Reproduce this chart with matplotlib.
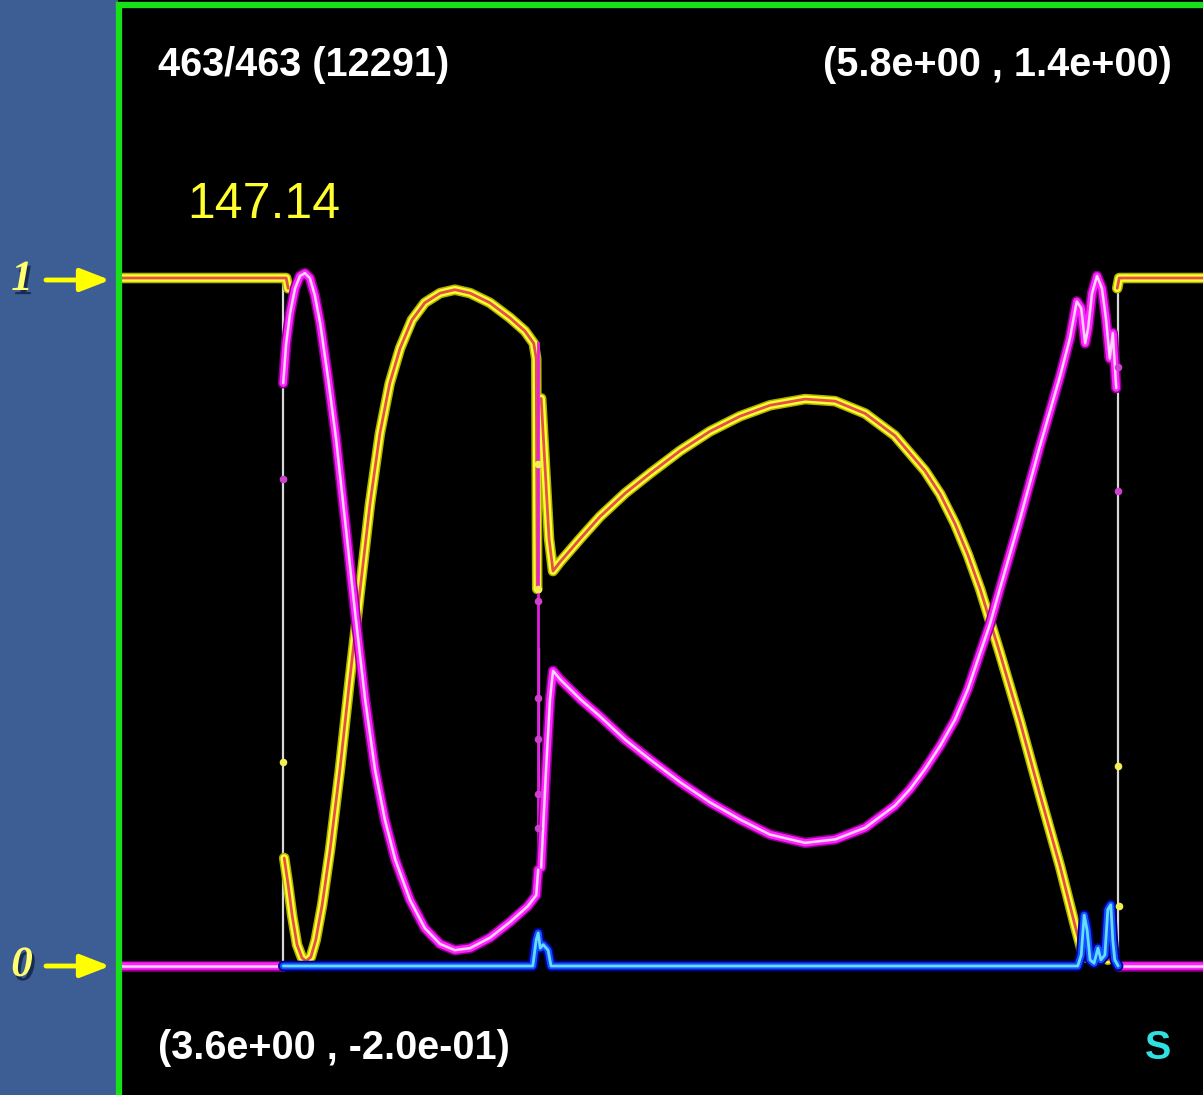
import numpy as np
import matplotlib.pyplot as plt
from matplotlib.lines import Line2D
import matplotlib.patheffects as pe

W, H = 1203, 1095

# ---- data (x: 3.6..5.8, y: volume fraction) ----
# yellow series, split where it jumps
yel_x1 = [3.600, 3.941, 3.945]
yel_y1 = [1.000, 1.000, 0.985]
yel_x2 = [3.937, 3.945, 3.953, 3.963, 3.973, 3.981, 3.991, 4.001, 4.014, 4.030,
          4.050, 4.070, 4.091, 4.111, 4.131, 4.151, 4.172, 4.196, 4.222, 4.253,
          4.283, 4.314, 4.354, 4.395, 4.425, 4.443, 4.448, 4.450]
yel_y2 = [0.157, 0.118, 0.074, 0.031, 0.012, 0.007, 0.013, 0.038, 0.089, 0.169,
          0.286, 0.417, 0.548, 0.672, 0.774, 0.847, 0.898, 0.939, 0.964, 0.978,
          0.983, 0.978, 0.964, 0.942, 0.923, 0.905, 0.883, 0.548]
yel_x3 = [4.458, 4.466, 4.474, 4.482, 4.496, 4.537, 4.577, 4.628, 4.679, 4.740,
          4.800, 4.861, 4.922, 4.993, 5.054, 5.115, 5.175, 5.236, 5.267, 5.297,
          5.323, 5.348, 5.388, 5.429, 5.469, 5.510, 5.540, 5.555, 5.563, 5.575,
          5.583, 5.595, 5.607, 5.619]
yel_y3 = [0.825, 0.723, 0.621, 0.574, 0.587, 0.621, 0.653, 0.687, 0.716, 0.749,
          0.777, 0.799, 0.815, 0.824, 0.821, 0.803, 0.771, 0.720, 0.686, 0.643,
          0.598, 0.548, 0.455, 0.355, 0.250, 0.145, 0.060, 0.020, 0.012, 0.023,
          0.012, 0.023, 0.009, 0.016]
yel_x4 = [5.626, 5.630, 5.800]
yel_y4 = [0.985, 1.000, 1.000]

# magenta series
mag_x1 = [3.600, 3.935]
mag_y1 = [0.0, 0.0]
mag_x2 = [3.935, 3.941, 3.949, 3.959, 3.969, 3.979, 3.989, 3.999, 4.010, 4.026,
          4.042, 4.060, 4.081, 4.101, 4.121, 4.141, 4.162, 4.192, 4.222, 4.253,
          4.283, 4.314, 4.354, 4.395, 4.431, 4.448, 4.452]
mag_y2 = [0.847, 0.905, 0.949, 0.985, 1.003, 1.007, 1.000, 0.975, 0.934, 0.854,
          0.767, 0.650, 0.512, 0.388, 0.286, 0.213, 0.155, 0.096, 0.055, 0.032,
          0.023, 0.026, 0.041, 0.064, 0.087, 0.103, 0.140]
mag_x3 = [4.458, 4.468, 4.476, 4.482, 4.496, 4.537, 4.577, 4.628, 4.679, 4.740,
          4.800, 4.861, 4.922, 4.993, 5.054, 5.115, 5.175, 5.206, 5.236, 5.267,
          5.297, 5.323, 5.348, 5.368, 5.388, 5.429, 5.469, 5.510, 5.530, 5.544,
          5.553, 5.561, 5.567, 5.575, 5.585, 5.595, 5.603, 5.611, 5.617, 5.624]
mag_y3 = [0.143, 0.286, 0.388, 0.429, 0.417, 0.388, 0.363, 0.329, 0.300, 0.267,
          0.238, 0.213, 0.191, 0.179, 0.184, 0.201, 0.233, 0.257, 0.286, 0.320,
          0.358, 0.402, 0.455, 0.497, 0.548, 0.650, 0.755, 0.857, 0.912, 0.966,
          0.956, 0.905, 0.927, 0.978, 1.003, 0.985, 0.942, 0.883, 0.920, 0.840]
mag_x4 = [5.628, 5.800]
mag_y4 = [0.0, 0.0]
mag_mid_x = [4.452, 4.452]
mag_mid_y = [0.905, 0.140]

# blue series
blu_x = [3.935, 4.441, 4.448, 4.452, 4.456, 4.462, 4.472, 4.478, 5.546, 5.553,
         5.559, 5.565, 5.571, 5.579, 5.587, 5.593, 5.601, 5.607, 5.613, 5.617,
         5.621, 5.628]
blu_y = [0.0, 0.0, 0.038, 0.048, 0.026, 0.031, 0.023, 0.0, 0.0, 0.016,
         0.074, 0.052, 0.009, 0.004, 0.026, 0.009, 0.016, 0.082, 0.089, 0.038,
         0.009, 0.0]

# white boundary lines
wall_x = [3.935, 5.628, 4.454]
wall_lo = [0.0, 0.0, 0.140]
wall_hi = [1.0, 1.0, 0.461]

# point markers
dot_mag_x = [3.935, 5.628, 4.452, 4.452, 4.452, 4.452, 4.452, 5.628]
dot_mag_y = [0.708, 0.691, 0.530, 0.390, 0.330, 0.250, 0.200, 0.870]
dot_yel_x = [3.935, 5.628, 5.630, 4.452, 4.452]
dot_yel_y = [0.296, 0.290, 0.087, 0.548, 0.730]

xmin, xmax = 3.6, 5.8
ymin, ymax = -0.2, 1.4

YEL = [('#b0b000', 7.6), ('#ffff30', 5.4), ('#e2504c', 2.0)]
MAG = [('#900090', 7.6), ('#ff22ff', 5.4), ('#ffd4ff', 1.8)]
BLU = [('#000090', 7.6), ('#1050ff', 5.0), ('#66dcff', 2.0)]

fig = plt.figure(figsize=(W / 100, H / 100), dpi=100)
fig.patch.set_facecolor('#3c5e95')
ax = fig.add_axes([118 / W, 0, 1 - 118 / W, 1])
ax.set_facecolor('black')
ax.set_xlim(3.6, 3.6 + 1085 / 493.2)
ax.set_ylim(-129 / 688, 966 / 688)
ax.set_xticks([])
ax.set_yticks([])
for s in ax.spines.values():
    s.set_visible(False)


def glow(x, y, layers, z):
    for i, (c, w) in enumerate(layers):
        ax.plot(x, y, color=c, lw=w, solid_joinstyle='round',
                solid_capstyle='round', zorder=z + i * 0.1)


for wx, lo, hi in zip(wall_x, wall_lo, wall_hi):
    ax.plot([wx, wx], [lo, hi], color='#d8d8d8', lw=1.6, zorder=1)

for xs, ys in [(yel_x1, yel_y1), (yel_x2, yel_y2), (yel_x3, yel_y3), (yel_x4, yel_y4)]:
    glow(xs, ys, YEL, 2)
ax.plot(mag_mid_x, mag_mid_y, color='#e020e0', lw=2.0, zorder=2.5)
for xs, ys in [(mag_x1, mag_y1), (mag_x2, mag_y2), (mag_x3, mag_y3), (mag_x4, mag_y4)]:
    glow(xs, ys, MAG, 3)
glow(blu_x, blu_y, BLU, 4)

ax.scatter(dot_mag_x, dot_mag_y, s=30, color='#d040d0', zorder=5, linewidths=0)
ax.scatter(dot_yel_x, dot_yel_y, s=30, color='#f0f050', zorder=5, linewidths=0)

# green frame
fig.add_artist(Line2D([119 / W, 119 / W], [0, 1 - 5 / H], color='#18e018', lw=4.5,
                      transform=fig.transFigure))
fig.add_artist(Line2D([119 / W, 1], [1 - 5 / H, 1 - 5 / H], color='#18e018', lw=4.5,
                      transform=fig.transFigure))

# texts
lab = dict(family='Liberation Sans', weight='bold', fontsize=28.5, va='center')
fig.text(158 / W, 1 - 65 / H, '463/463 (12291)', color='white', ha='left', **lab)
fig.text(1172 / W, 1 - 65 / H, '(%.1e , %.1e)' % (xmax, ymax), color='white', ha='right', **lab)
fig.text(158 / W, 1 - 1048 / H, '(%.1e , %.1e)' % (xmin, ymin), color='white', ha='left', **lab)
fig.text(1158 / W, 1 - 1048 / H, 'S', color='#30e0e0', ha='center', **lab)
fig.text(187 / W, 1 - 205 / H, '147.14', color='#ffff30', ha='left', va='center',
         family='Liberation Sans', fontsize=36)

shadow = [pe.withSimplePatchShadow(offset=(2, -3), shadow_rgbFace='#102040', alpha=0.8)]
for val, py in [('1', 280), ('0', 966)]:
    fig.text(22 / W, 1 - py / H, val, color='#ffff70', ha='center', va='center',
             family='Liberation Serif', style='italic', weight='bold', fontsize=31,
             path_effects=shadow)
    ax.annotate('', xy=(110, H - py), xytext=(46, H - py), xycoords='figure pixels',
                textcoords='figure pixels',
                arrowprops=dict(arrowstyle='-|>,head_length=0.9,head_width=0.35',
                                color='#ffff00', lw=3.5, mutation_scale=20,
                                shrinkA=0, shrinkB=0))

fig.savefig('out.png', dpi=100, facecolor=fig.get_facecolor())
